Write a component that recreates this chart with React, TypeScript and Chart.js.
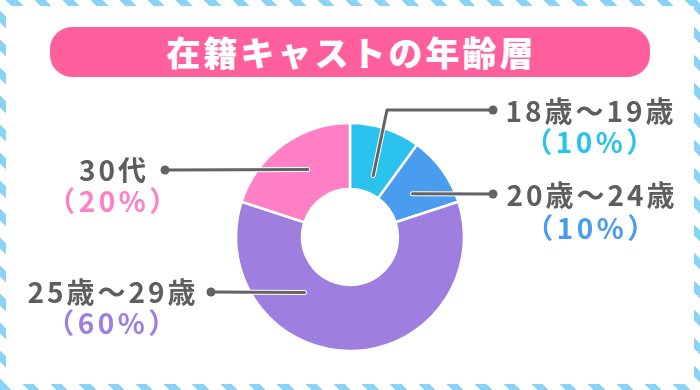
import React, { useEffect, useRef } from "react";
import { Chart, registerables } from "chart.js";

Chart.register(...registerables);

const TITLE = "在籍キャストの年齢層";
const categories = ["18歳～19歳", "20歳～24歳", "25歳～29歳", "30代"];
const shares = [10, 10, 60, 20];
const shareLabels = ["（10%）", "（10%）", "（60%）", "（20%）"];
const colors = ["#29c3ee", "#4a9cee", "#9e7fe0", "#ff80c4"];

// layout of callouts (positions only)
const callouts = [
  { angle: 20.7, rf: 0.577, path: [[387, 110], [493, 110]], tx: 591, ty: 111, py: 142 },
  { angle: 55.3, rf: 0.668, path: [[493, 194]], tx: 592, ty: 195, py: 228 },
  { angle: 219.3, rf: 0.63, path: [[211, 292]], tx: 113, ty: 292, py: 323 },
  { angle: 327.9, rf: 0.7, path: [[165, 170]], tx: 114, ty: 170, py: 201 },
];

const calloutPlugin = {
  id: "callouts",
  afterDraw(chart: any) {
    const ctx = chart.ctx as CanvasRenderingContext2D;
    const meta = chart.getDatasetMeta(0);
    const arc0 = meta.data[0] as any;
    const cx = arc0.x;
    const cy = arc0.y;
    const R = arc0.outerRadius;
    callouts.forEach((c, i) => {
      const a = (c.angle * Math.PI) / 180;
      const sx = cx + Math.sin(a) * R * c.rf;
      const sy = cy - Math.cos(a) * R * c.rf;
      const pts = [[sx, sy], ...c.path];
      ctx.save();
      ctx.lineCap = "round";
      ctx.lineJoin = "round";
      ctx.strokeStyle = "#ffffff";
      ctx.lineWidth = 5;
      ctx.beginPath();
      pts.forEach((p, k) => (k ? ctx.lineTo(p[0], p[1]) : ctx.moveTo(p[0], p[1])));
      ctx.stroke();
      ctx.strokeStyle = "#636363";
      ctx.lineWidth = 3;
      ctx.beginPath();
      pts.forEach((p, k) => (k ? ctx.lineTo(p[0], p[1]) : ctx.moveTo(p[0], p[1])));
      ctx.stroke();
      const end = pts[pts.length - 1];
      ctx.fillStyle = "#636363";
      ctx.beginPath();
      ctx.arc(end[0], end[1], 4.5, 0, Math.PI * 2);
      ctx.fill();
      ctx.textAlign = "center";
      ctx.textBaseline = "middle";
      (ctx as any).letterSpacing = "3px";
      ctx.font = "bold 28px 'Noto Sans CJK JP', sans-serif";
      ctx.fillStyle = "#5e5e5e";
      ctx.fillText(categories[i], c.tx, c.ty);
      ctx.fillStyle = colors[i];
      (ctx as any).letterSpacing = "3.5px";
      ctx.font = "bold 28px 'Noto Sans CJK JP', sans-serif";
      ctx.fillText(shareLabels[i], c.tx, c.py);
      ctx.restore();
    });
  },
};

export default function App() {
  const ref = useRef<HTMLCanvasElement | null>(null);
  useEffect(() => {
    if (!ref.current) return;
    const chart = new Chart(ref.current, {
      type: "doughnut",
      data: {
        labels: categories,
        datasets: [
          {
            data: shares,
            backgroundColor: colors,
            borderColor: "#ffffff",
            borderWidth: 2.5,
          },
        ],
      },
      options: {
        animation: false,
        responsive: false,
        radius: 114,
        cutout: "42%",
        layout: { padding: { left: 230, right: 230, top: 118, bottom: 34 } },
        plugins: { legend: { display: false }, tooltip: { enabled: false }, title: { display: false } },
        events: [],
      },
      plugins: [calloutPlugin],
    });
    return () => chart.destroy();
  }, []);

  return (
    <div
      style={{
        position: "fixed",
        left: 0,
        top: 0,
        width: 700,
        height: 390,
        background:
          "repeating-linear-gradient(45deg, #8ad3f8 0px, #8ad3f8 8px, #ffffff 8px, #ffffff 20px)",
      }}
    >
      <div style={{ position: "absolute", left: 6, top: 6, right: 6, bottom: 6, background: "#ffffff" }} />
      <div
        style={{
          position: "absolute",
          left: 50,
          top: 27,
          width: 600,
          height: 50,
          borderRadius: 22,
          background: "#ff5f9c",
          color: "#ffffff",
          fontFamily: "'Noto Sans CJK JP', sans-serif",
          fontWeight: 900,
          fontSize: 34,
          letterSpacing: 3,
          lineHeight: "50px",
          textAlign: "center",
          paddingLeft: 3,
          boxSizing: "border-box",
        }}
      >
        {TITLE}
      </div>
      <canvas ref={ref} width={700} height={390} style={{ position: "absolute", left: 0, top: 0 }} />
    </div>
  );
}
